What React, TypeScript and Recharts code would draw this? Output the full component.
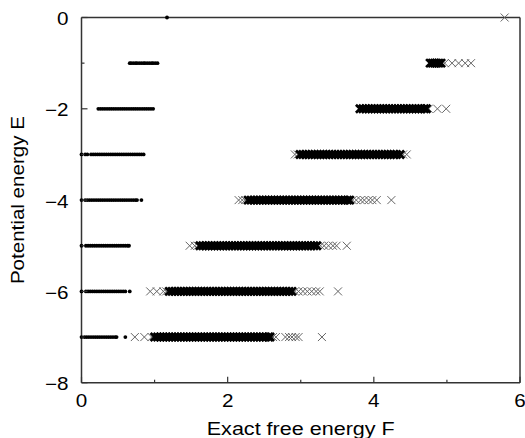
import React from 'react';
import { ScatterChart, Scatter, XAxis, YAxis, Label } from 'recharts';

// ---------- axes / text ----------
const xTicks = [0, 1, 2, 3, 4, 5, 6];
const xTickLabels = ['0', '', '2', '', '4', '', '6'];
const yTicks = [-8, -7, -6, -5, -4, -3, -2, -1, 0];
const yTickLabels = ['−8', '', '−6', '', '−4', '', '−2', '', '0'];
const xTitle = 'Exact free energy F';
const yTitle = 'Potential energy E';

// ---------- dots series (free energy F, per level E) ----------
const dotsE0 = [1.17];
const dotsE1 = [0.66, 0.68, 0.71, 0.74, 0.76, 0.79, 0.82, 0.85, 0.87, 0.9, 0.93, 0.96, 0.98, 1.01, 1.04];
const dotsE2 = [0.23, 0.26, 0.29, 0.32, 0.35, 0.38, 0.41, 0.44, 0.47, 0.5, 0.53, 0.56, 0.59, 0.62, 0.65, 0.68, 0.71, 0.74, 0.77, 0.8, 0.83, 0.86, 0.89, 0.92, 0.95, 0.98];
const dotsE3 = [0.0, 0.05, 0.08, 0.13, 0.16, 0.19, 0.22, 0.25, 0.28, 0.31, 0.34, 0.37, 0.4, 0.43, 0.46, 0.49, 0.52, 0.55, 0.58, 0.61, 0.64, 0.67, 0.7, 0.73, 0.76, 0.79, 0.82, 0.85];
const dotsE4 = [0.0, 0.05, 0.08, 0.11, 0.14, 0.17, 0.2, 0.23, 0.26, 0.29, 0.32, 0.35, 0.38, 0.41, 0.44, 0.47, 0.5, 0.53, 0.56, 0.59, 0.62, 0.65, 0.68, 0.71, 0.74, 0.76, 0.82];
const dotsE5 = [0.0, 0.06, 0.09, 0.12, 0.15, 0.18, 0.21, 0.24, 0.27, 0.3, 0.33, 0.36, 0.39, 0.42, 0.45, 0.48, 0.51, 0.54, 0.57, 0.6, 0.63, 0.65];
const dotsE6 = [0.0, 0.06, 0.09, 0.12, 0.15, 0.18, 0.21, 0.24, 0.27, 0.3, 0.33, 0.36, 0.39, 0.42, 0.45, 0.48, 0.51, 0.54, 0.57, 0.6, 0.66];
const dotsE7 = [0.0, 0.04, 0.07, 0.1, 0.13, 0.16, 0.19, 0.22, 0.25, 0.28, 0.31, 0.34, 0.37, 0.4, 0.43, 0.46, 0.48, 0.6];

// ---------- crosses series: isolated (grey) ----------
const crossE0 = [5.79];
const crossE1 = [4.97, 5.07, 5.16, 5.25, 5.33];
const crossE2 = [4.75, 4.87, 4.99];
const crossE3 = [2.92, 2.96, 4.4, 4.45];
const crossE4 = [2.15, 2.2, 2.24, 3.71, 3.76, 3.82, 3.87, 3.93, 3.98, 4.04, 4.24];
const crossE5 = [1.48, 1.55, 1.59, 3.27, 3.32, 3.38, 3.44, 3.49, 3.63];
const crossE6 = [0.94, 1.03, 1.12, 1.16, 2.92, 2.97, 3.03, 3.09, 3.15, 3.21, 3.26, 3.51];
const crossE7 = [0.73, 0.86, 0.96, 2.62, 2.66, 2.79, 2.84, 2.88, 2.93, 2.97, 3.29];

// ---------- crosses series: dense runs (overlapping, look black) ----------
const denseE1 = [4.77, 4.8, 4.83, 4.86, 4.89, 4.92];
const denseE2 = [3.81, 3.85, 3.89, 3.93, 3.97, 4.01, 4.05, 4.09, 4.13, 4.17, 4.21, 4.25, 4.29, 4.33, 4.37, 4.41, 4.45, 4.49, 4.53, 4.57, 4.61, 4.65, 4.69, 4.72];
const denseE3 = [2.99, 3.03, 3.07, 3.11, 3.15, 3.19, 3.23, 3.27, 3.31, 3.35, 3.39, 3.43, 3.47, 3.51, 3.55, 3.59, 3.63, 3.67, 3.71, 3.75, 3.79, 3.83, 3.87, 3.91, 3.95, 3.99, 4.03, 4.07, 4.11, 4.15, 4.19, 4.23, 4.27, 4.31, 4.36];
const denseE4 = [2.28, 2.32, 2.36, 2.4, 2.44, 2.48, 2.52, 2.56, 2.6, 2.64, 2.68, 2.72, 2.76, 2.8, 2.84, 2.88, 2.92, 2.96, 3.0, 3.04, 3.08, 3.12, 3.16, 3.2, 3.24, 3.28, 3.32, 3.36, 3.4, 3.44, 3.48, 3.52, 3.56, 3.6, 3.64, 3.67];
const denseE5 = [1.62, 1.66, 1.7, 1.74, 1.78, 1.82, 1.86, 1.9, 1.94, 1.98, 2.02, 2.06, 2.1, 2.14, 2.18, 2.22, 2.26, 2.3, 2.34, 2.38, 2.42, 2.46, 2.5, 2.54, 2.58, 2.62, 2.66, 2.7, 2.74, 2.78, 2.82, 2.86, 2.9, 2.94, 2.98, 3.02, 3.06, 3.1, 3.14, 3.18, 3.22];
const denseE6 = [1.2, 1.24, 1.28, 1.32, 1.36, 1.4, 1.44, 1.48, 1.52, 1.56, 1.6, 1.64, 1.68, 1.72, 1.76, 1.8, 1.84, 1.88, 1.92, 1.96, 2.0, 2.04, 2.08, 2.12, 2.16, 2.2, 2.24, 2.28, 2.32, 2.36, 2.4, 2.44, 2.48, 2.52, 2.56, 2.6, 2.64, 2.68, 2.72, 2.76, 2.8, 2.84, 2.88];
const denseE7 = [1.0, 1.04, 1.08, 1.12, 1.16, 1.2, 1.24, 1.28, 1.32, 1.36, 1.4, 1.44, 1.48, 1.52, 1.56, 1.6, 1.64, 1.68, 1.72, 1.76, 1.8, 1.84, 1.88, 1.92, 1.96, 2.0, 2.04, 2.08, 2.12, 2.16, 2.2, 2.24, 2.28, 2.32, 2.36, 2.4, 2.44, 2.48, 2.52, 2.56, 2.58];

const rows = (list: [number[], number][]) =>
  list.flatMap(([xs, e]) => xs.map((x) => ({ x, y: e })));

const dotData = rows([
  [dotsE0, 0], [dotsE1, -1], [dotsE2, -2], [dotsE3, -3],
  [dotsE4, -4], [dotsE5, -5], [dotsE6, -6], [dotsE7, -7],
]);
const crossData = rows([
  [crossE0, 0], [crossE1, -1], [crossE2, -2], [crossE3, -3],
  [crossE4, -4], [crossE5, -5], [crossE6, -6], [crossE7, -7],
]);
const denseData = rows([
  [denseE1, -1], [denseE2, -2], [denseE3, -3],
  [denseE4, -4], [denseE5, -5], [denseE6, -6], [denseE7, -7],
]);

const FONT = '"Liberation Sans", Arial, Helvetica, sans-serif';
const AXIS = '#333';

const labelFor = (ticks: number[], labels: string[], v: number) => {
  const i = ticks.indexOf(v);
  return i >= 0 ? labels[i] : '';
};

const BottomTick = (p: any) => {
  const { x, y, payload } = p;
  const lab = labelFor(xTicks, xTickLabels, payload.value);
  const len = lab ? 6 : 3;
  return (
    <g>
      <line x1={x} y1={y} x2={x} y2={y - len} stroke={AXIS} strokeWidth={1.2} />
      {lab ? (
        <text transform={`translate(${x},${y + 24.5}) scale(1.18,1)`} textAnchor="middle"
          fontSize={17.5} fontFamily={FONT} fill="#000">{lab}</text>
      ) : null}
    </g>
  );
};
const TopTick = (p: any) => {
  const { x, y, payload } = p;
  const lab = labelFor(xTicks, xTickLabels, payload.value);
  const len = lab ? 6 : 3;
  return <line x1={x} y1={y} x2={x} y2={y + len} stroke={AXIS} strokeWidth={1.2} />;
};
const LeftTick = (p: any) => {
  const { x, y, payload } = p;
  const lab = labelFor(yTicks, yTickLabels, payload.value);
  const len = lab ? 6 : 3;
  return (
    <g>
      <line x1={x} y1={y} x2={x + len} y2={y} stroke={AXIS} strokeWidth={1.2} />
      {lab ? (
        <text transform={`translate(${x - 13},${y + 7.5}) scale(1.18,1)`} textAnchor="end"
          fontSize={17.5} fontFamily={FONT} fill="#000">{lab}</text>
      ) : null}
    </g>
  );
};
const RightTick = (p: any) => {
  const { x, y, payload } = p;
  const lab = labelFor(yTicks, yTickLabels, payload.value);
  const len = lab ? 6 : 3;
  return <line x1={x} y1={y} x2={x - len} y2={y} stroke={AXIS} strokeWidth={1.2} />;
};

const DotShape = (p: any) => <circle cx={p.cx} cy={p.cy} r={1.9} fill="#000" />;
const CrossShape = (p: any) => {
  const { cx, cy } = p;
  const s = 4;
  return (
    <path d={`M${cx - s},${cy - s}L${cx + s},${cy + s}M${cx - s},${cy + s}L${cx + s},${cy - s}`}
      stroke="#666" strokeWidth={1} fill="none" />
  );
};
const DenseShape = (p: any) => {
  const { cx, cy } = p;
  const s = 4;
  return (
    <path d={`M${cx - s},${cy - s}L${cx + s},${cy + s}M${cx - s},${cy + s}L${cx + s},${cy - s}`}
      stroke="#000" strokeWidth={2.7} fill="none" />
  );
};

const XTitle = (p: any) => {
  const vb = p.viewBox || { x: 81.5, y: 382.7, width: 438.5, height: 1 };
  return (
    <text x={vb.x + vb.width / 2} y={vb.y + 52} textAnchor="middle" fontSize={17.5}
      fontFamily={FONT} fill="#000" textLength={188} lengthAdjust="spacingAndGlyphs">{xTitle}</text>
  );
};
const YTitle = (p: any) => {
  const vb = p.viewBox || { x: 80.5, y: 17.5, width: 1, height: 365.2 };
  const cx = vb.x + vb.width - 57.5;
  const cy = vb.y + vb.height / 2;
  return (
    <text x={cx} y={cy} transform={`rotate(-90, ${cx}, ${cy})`} textAnchor="middle" fontSize={17.5}
      fontFamily={FONT} fill="#000" textLength={168} lengthAdjust="spacingAndGlyphs">{yTitle}</text>
  );
};

export default function App() {
  const axisLine = { stroke: AXIS, strokeWidth: 1.5 };
  return (
    <div style={{ position: 'absolute', left: 0, top: 0, width: 525, height: 438, background: '#fff' }}>
      <ScatterChart width={525} height={438} margin={{ top: 16.5, right: 4, bottom: 54.3, left: 80.5 }}>
        <XAxis xAxisId="b" dataKey="x" type="number" domain={[0, 6]} ticks={xTicks} interval={0}
          height={1} tickSize={0} tickMargin={0} tickLine={false}
          axisLine={axisLine} tick={<BottomTick />}>
          <Label content={<XTitle />} />
        </XAxis>
        <XAxis xAxisId="t" orientation="top" type="number" domain={[0, 6]} ticks={xTicks} interval={0}
          height={1} tickSize={0} tickMargin={0} tickLine={false}
          axisLine={axisLine} tick={<TopTick />} />
        <YAxis yAxisId="l" dataKey="y" type="number" domain={[-8, 0]} ticks={yTicks} interval={0}
          width={1} tickSize={0} tickMargin={0} tickLine={false}
          axisLine={axisLine} tick={<LeftTick />}>
          <Label content={<YTitle />} />
        </YAxis>
        <YAxis yAxisId="r" orientation="right" type="number" domain={[-8, 0]} ticks={yTicks} interval={0}
          width={1} tickSize={0} tickMargin={0} tickLine={false}
          axisLine={axisLine} tick={<RightTick />} />
        <Scatter xAxisId="b" yAxisId="l" data={dotData} shape={<DotShape />} isAnimationActive={false} />
        <Scatter xAxisId="b" yAxisId="l" data={crossData} shape={<CrossShape />} isAnimationActive={false} />
        <Scatter xAxisId="b" yAxisId="l" data={denseData} shape={<DenseShape />} isAnimationActive={false} />
      </ScatterChart>
    </div>
  );
}
